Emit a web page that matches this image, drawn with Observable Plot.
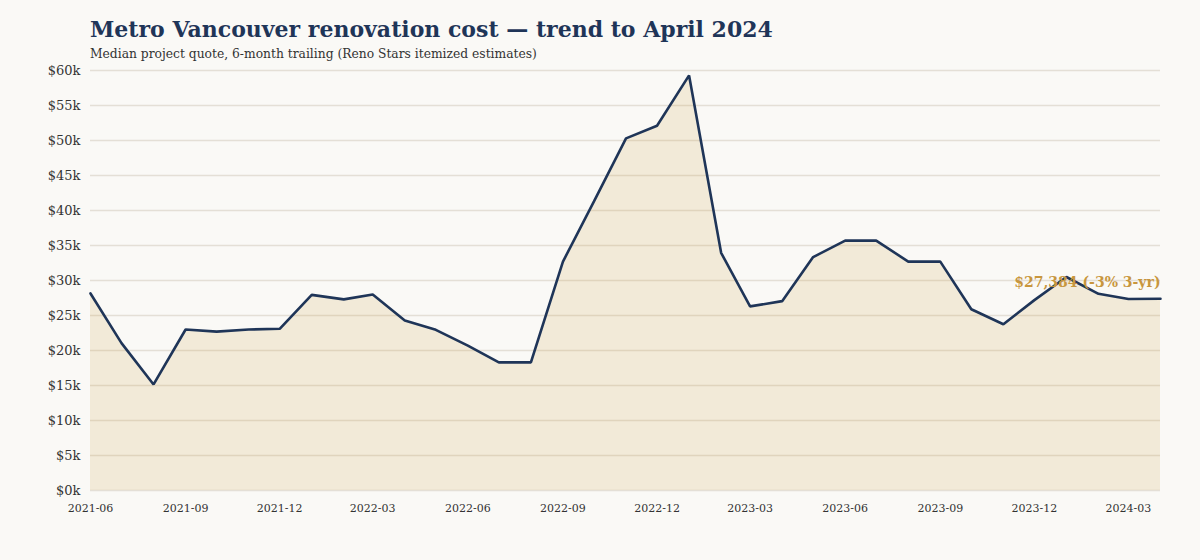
<!DOCTYPE html>
<html>
<head>
<meta charset="utf-8">
<script src="https://cdn.jsdelivr.net/npm/d3@7"></script>
<script src="https://cdn.jsdelivr.net/npm/@observablehq/plot@0.6"></script>
<style>
  html, body { margin: 0; padding: 0; background: #faf9f6; }
  body { width: 1200px; height: 560px; overflow: hidden; font-family: Georgia, "DejaVu Serif", serif; }
  #title { margin: 14px 0 0 90px; font-size: 22px; font-weight: bold; color: #1f3558; line-height: 30px; }
  #subtitle { margin: 2px 0 0 90px; font-size: 12.3px; color: #333; line-height: 16px; }
  #chart { margin-top: 0px; }
</style>
</head>
<body>
<div id="title">Metro Vancouver renovation cost — trend to April 2024</div>
<div id="subtitle">Median project quote, 6-month trailing (Reno Stars itemized estimates)</div>
<div id="chart"></div>
<script>
const months = ["2021-06","2021-07","2021-08","2021-09","2021-10","2021-11","2021-12",
  "2022-01","2022-02","2022-03","2022-04","2022-05","2022-06","2022-07","2022-08","2022-09","2022-10","2022-11","2022-12",
  "2023-01","2023-02","2023-03","2023-04","2023-05","2023-06","2023-07","2023-08","2023-09","2023-10","2023-11","2023-12",
  "2024-01","2024-02","2024-03","2024-04"];
const medianQuote = [28150, 21050, 15150, 23000, 22700, 23000, 23100,
  27950, 27300, 28000, 24300, 22950, 20700, 18300, 18300, 32700, 41300, 50300, 52100,
  59300, 33950, 26300, 27050, 33350, 35700, 35700, 32700, 32700, 25900, 23750, 27200,
  30500, 28100, 27350, 27384];
const xTickLabels = ["2021-06","2021-09","2021-12","2022-03","2022-06","2022-09","2022-12","2023-03","2023-06","2023-09","2023-12","2024-03"];
const yTicks = [0,5000,10000,15000,20000,25000,30000,35000,40000,45000,50000,55000,60000];
const annotationText = "$27,384 (-3% 3-yr)";

const parse = d3.utcParse("%Y-%m");
const data = months.map((m, i) => ({date: parse(m), value: medianQuote[i]}));
const last = data[data.length - 1];

const serif = "Georgia, 'DejaVu Serif', serif";
const plot = Plot.plot({
  width: 1200,
  height: 460,
  marginTop: 8,
  marginLeft: 90,
  marginRight: 40,
  marginBottom: 32,
  style: {background: "transparent", fontFamily: serif, color: "#333"},
  x: {type: "utc", domain: [data[0].date, last.date], label: null},
  y: {domain: [0, 60000], label: null},
  marks: [
    Plot.ruleY(yTicks, {stroke: "#e4dfd6", strokeWidth: 1.5}),
    Plot.areaY(data, {x: "date", y: "value", fill: "#d09a3e", fillOpacity: 0.16}),
    Plot.lineY(data, {x: "date", y: "value", stroke: "#1f3558", strokeWidth: 2.6, strokeLinejoin: "miter"}),
    Plot.axisY(yTicks, {tickSize: 0, tickPadding: 10, fontSize: 13, fill: "#333", label: null, tickFormat: d => "$" + (d/1000) + "k"}),
    Plot.axisX(xTickLabels.map(parse), {tickSize: 0, tickPadding: 14, fontSize: 11, fill: "#333", label: null, tickFormat: d3.utcFormat("%Y-%m")}),
    Plot.text([last], {x: "date", y: "value", text: () => annotationText, textAnchor: "end", dy: -16, fill: "#c8963e", fontSize: 14, fontWeight: "bold"})
  ]
});
document.getElementById("chart").appendChild(plot);
</script>
</body>
</html>
